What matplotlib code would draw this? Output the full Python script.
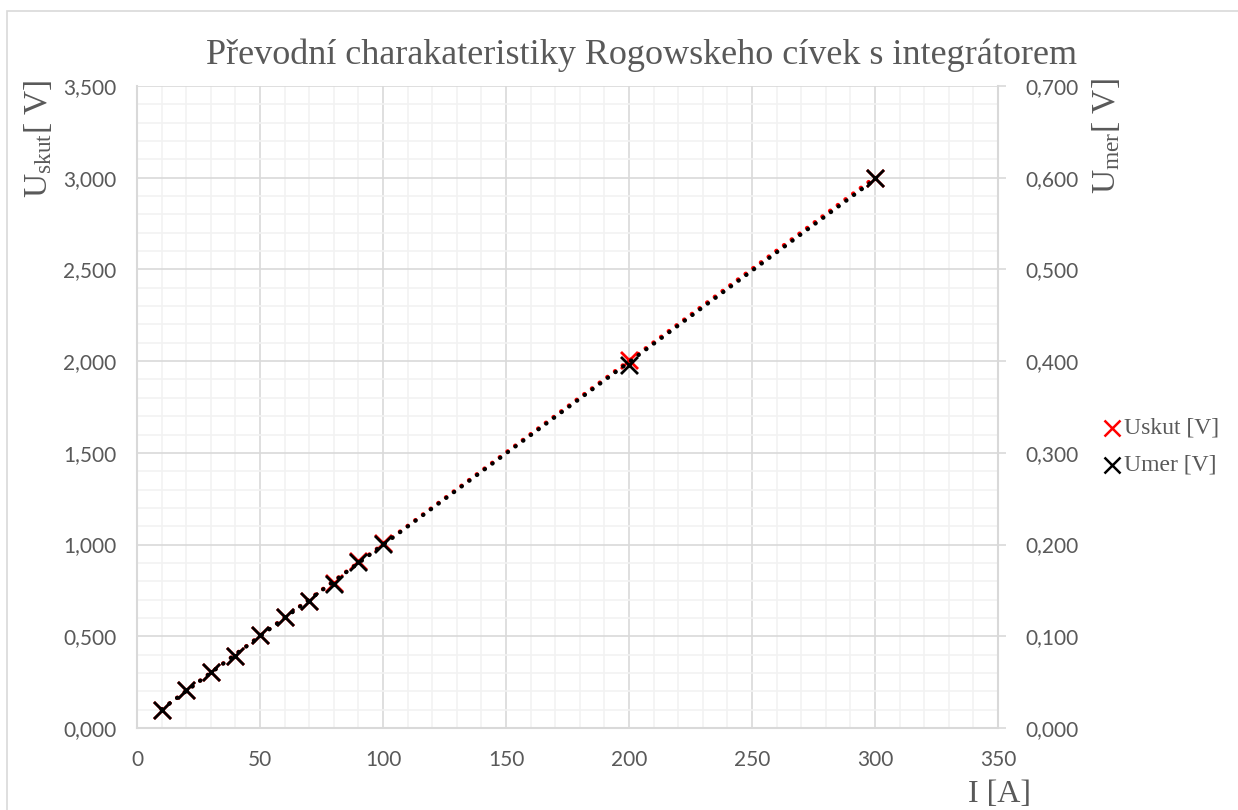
import numpy as np
import matplotlib
matplotlib.use("Agg")
import matplotlib.pyplot as plt
from matplotlib.ticker import MultipleLocator, FuncFormatter
from matplotlib.patches import Rectangle

# Measured data
current = [10, 20, 30, 40, 50, 60, 70, 80, 90, 100, 200, 300]
u_skut = [0.100, 0.205, 0.305, 0.395, 0.505, 0.605, 0.695, 0.790, 0.910, 1.010, 2.005, 3.000]
u_mer = [0.020, 0.041, 0.061, 0.079, 0.101, 0.121, 0.139, 0.157, 0.181, 0.201, 0.396, 0.600]

title = "Převodní charakateristiky Rogowskeho cívek s integrátorem"
series_names = ["Uskut [V]", "Umer [V]"]

plt.rcParams["mathtext.fontset"] = "custom"
plt.rcParams["mathtext.rm"] = "Liberation Serif"
plt.rcParams["mathtext.it"] = "Liberation Serif"

TXT = "#595959"
SERIF = "Liberation Serif"
SANS = "Lato"

fig = plt.figure(figsize=(12.38, 8.10), dpi=100)
fig.patch.set_facecolor("white")
fig.patches.append(Rectangle((7 / 1238, -0.1), 1.2, 1 - 11 / 810 + 0.1,
                             transform=fig.transFigure, fill=False,
                             edgecolor="#d9d9d9", linewidth=1.2))

ax = fig.add_axes([137 / 1238, 1 - 728 / 810, (998 - 137) / 1238, (728 - 86) / 810])
ax2 = ax.twinx()

ax.set_xlim(0, 350)
ax.set_ylim(0, 3.5)
ax2.set_ylim(0, 0.7)

ax.xaxis.set_major_locator(MultipleLocator(50))
ax.xaxis.set_minor_locator(MultipleLocator(10))
ax.yaxis.set_major_locator(MultipleLocator(0.5))
ax.yaxis.set_minor_locator(MultipleLocator(0.1))
ax2.yaxis.set_major_locator(MultipleLocator(0.1))

comma = lambda v, p: f"{v:.3f}".replace(".", ",")
ax.yaxis.set_major_formatter(FuncFormatter(comma))
ax2.yaxis.set_major_formatter(FuncFormatter(comma))

ax.grid(which="major", color="#d9d9d9", linewidth=1.2)
ax.grid(which="minor", color="#f2f2f2", linewidth=1.2)
ax.set_axisbelow(True)

for a in (ax, ax2):
    for s in a.spines.values():
        s.set_visible(False)
ax.spines["bottom"].set_visible(True)
ax.spines["bottom"].set_color("#d9d9d9")
ax.spines["bottom"].set_linewidth(1.5)
ax.spines["left"].set_visible(True)
ax.spines["left"].set_color("#d9d9d9")
ax.spines["left"].set_linewidth(1.5)
ax2.spines["right"].set_visible(True)
ax2.spines["right"].set_color("#d9d9d9")
ax2.spines["right"].set_linewidth(1.5)

ax.tick_params(axis="both", which="both", length=0, labelsize=15, labelcolor=TXT)
ax.tick_params(axis="y", pad=15)
ax.tick_params(axis="x", pad=16)
ax2.tick_params(axis="y", which="major", length=6, color="#d9d9d9", width=1.2,
                labelsize=15, labelcolor=TXT, pad=14)
ax2.tick_params(axis="y", which="minor", length=0)
for lab in ax.get_xticklabels() + ax.get_yticklabels() + ax2.get_yticklabels():
    lab.set_fontfamily(SANS)

# linear trendlines
x = np.array(current, dtype=float)
xs = np.linspace(x.min(), x.max(), 200)
k1, q1 = np.polyfit(x, u_skut, 1)
k2, q2 = np.polyfit(x, u_mer, 1)
ax.plot(xs, k1 * xs + q1, color="red", linestyle=(0, (0.1, 2.2)), linewidth=3,
        dash_capstyle="round", zorder=3)
ax2.plot(xs, k2 * xs + q2, color="black", linestyle=(0, (0.1, 2.2)), linewidth=3,
         dash_capstyle="round", zorder=3)

ax.scatter(current, u_skut, marker="x", s=150, color="red", linewidths=2, zorder=4)
ax2.scatter(current, u_mer, marker="x", s=150, color="black", linewidths=2, zorder=4)

# titles
fig.text(642 / 1238, 1 - 55 / 810, title, ha="center", va="center", fontsize=26,
         family=SERIF, color=TXT)
fig.text(38 / 1238, 1 - 80 / 810, r"U$_{\mathrm{skut}}$[ V]", rotation=90,
         ha="center", va="top", fontsize=24, family=SERIF, color=TXT)
fig.text(1106 / 1238, 1 - 78 / 810, r"U$_{\mathrm{mer}}$[ V]", rotation=90,
         ha="center", va="top", fontsize=24, family=SERIF, color=TXT)
fig.text(1000 / 1238, 1 - 795 / 810, "I [A]", ha="center", va="center",
         fontsize=23, family=SERIF, color=TXT)

# legend
for i, (name, col) in enumerate(zip(series_names, ["red", "black"])):
    yy = 1 - (428 + 37 * i) / 810
    fig.lines.append(plt.Line2D([1112 / 1238], [yy], marker="x", markersize=11,
                                markeredgewidth=1.8, color=col, linestyle="none",
                                transform=fig.transFigure))
    fig.text(1124 / 1238, yy, name, ha="left", va="center", fontsize=17,
             family=SERIF, color=TXT)

fig.savefig("out.png", dpi=100, facecolor="white")
